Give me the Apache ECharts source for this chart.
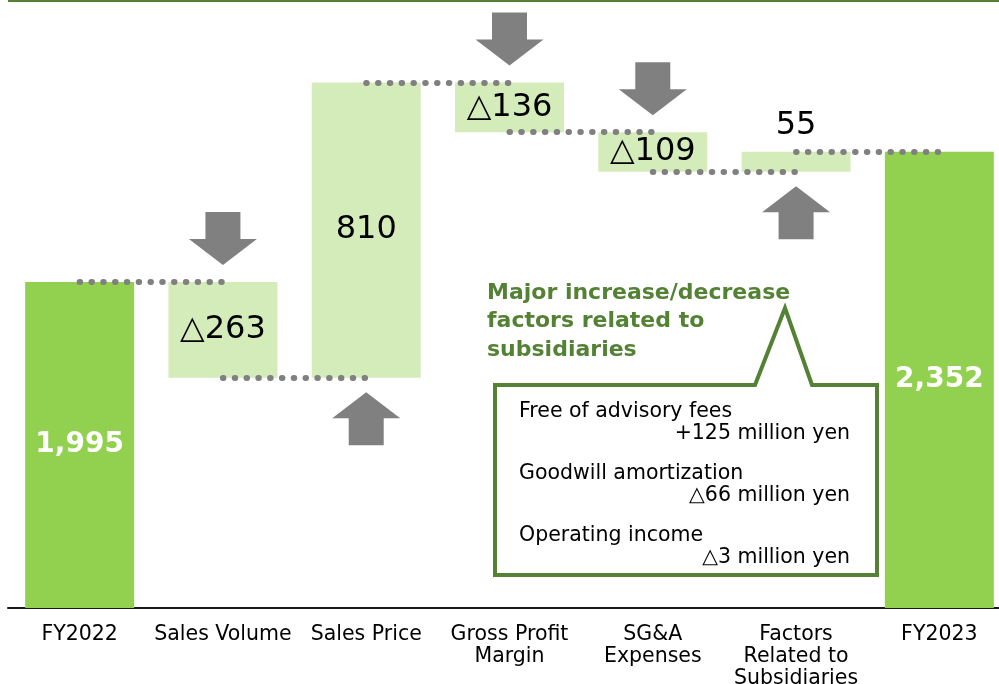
<!DOCTYPE html>
<html>
<head>
<meta charset="utf-8">
<script src="https://cdn.jsdelivr.net/npm/echarts@6/dist/echarts.min.js"></script>
<style>
  html, body { margin: 0; padding: 0; background: #fff; }
  #chart { width: 999px; height: 684px; }
</style>
</head>
<body>
<div id="chart"></div>
<script>
// data
const categories = ['FY2022', 'Sales Volume', 'Sales Price', 'Gross Profit\nMargin', 'SG&A\nExpenses', 'Factors\nRelated to\nSubsidiaries', 'FY2023'];
const startTotal = 1995;
const changes = [-263, 810, -136, -109, 55];
const endTotal = 2352;
const noteLines = [
    ['Free of advisory fees', '+125 million yen'],
    ['Goodwill amortization', '\u25B366 million yen'],
    ['Operating income', '\u25B33 million yen']
];

const yMin = 1100, yMax = 2700;
const totalColor = '#92d050', deltaColor = '#d4ecba', boxGreen = '#548235';
const FONT = 'DejaVu Sans';

const downArrow = 'path://M16.5,0H51.5V27H68L34,53L0,27H16.5Z';
const upArrow = 'path://M34,0L68,26H51.5V53H16.5V26H0Z';

// build waterfall
var baseData = [yMin];
var barData = [{
    value: startTotal - yMin,
    itemStyle: { color: totalColor },
    label: { show: true, position: 'inside', color: '#fff', fontWeight: 'bold', fontSize: 28, formatter: startTotal.toLocaleString('en-US') }
}];
var levels = [startTotal];
var arrows = [];
var run = startTotal;
changes.forEach(function (c, i) {
    baseData.push(c < 0 ? run + c : run);
    barData.push({
        value: Math.abs(c),
        itemStyle: { color: deltaColor },
        label: {
            show: true,
            position: Math.abs(c) < 100 ? 'top' : 'inside',
            distance: 10,
            color: '#000', fontSize: 32,
            formatter: (c < 0 ? '\u25B3' : '') + Math.abs(c)
        }
    });
    arrows.push({
        value: [i + 1, run],
        symbol: c < 0 ? downArrow : upArrow,
        symbolOffset: [0, c < 0 ? -43.5 : 41]
    });
    run += c;
    levels.push(run);
});
baseData.push(yMin);
barData.push({
    value: endTotal - yMin,
    itemStyle: { color: totalColor },
    label: { show: true, position: 'inside', color: '#fff', fontWeight: 'bold', fontSize: 28, formatter: endTotal.toLocaleString('en-US') }
});

var connectors = [];
for (var i = 0; i < levels.length; i++) {
    connectors.push([{ coord: [i, levels[i]] }, { coord: [i + 1, levels[i]] }]);
}

// callout graphics
var graphics = [
    { type: 'line', shape: { x1: 8, y1: 1, x2: 999, y2: 1 }, style: { stroke: boxGreen, lineWidth: 2 } },
    {
        type: 'polygon', z: 10,
        shape: { points: [[495, 385], [755, 385], [785, 308], [812, 385], [877, 385], [877, 575], [495, 575]] },
        style: { fill: '#fff', stroke: boxGreen, lineWidth: 4, lineJoin: 'miter' }
    },
    {
        type: 'text', left: 487, top: 279, z: 11,
        style: {
            text: 'Major increase/decrease\nfactors related to\nsubsidiaries',
            fill: boxGreen, font: 'bold 22px "' + FONT + '"', lineHeight: 28.5
        }
    }
];
noteLines.forEach(function (ln, k) {
    var y = 412 + k * 62;
    graphics.push({ type: 'text', z: 11, x: 519, y: y, style: { text: ln[0], fill: '#000', font: '20.5px "' + FONT + '"', align: 'left', verticalAlign: 'middle' } });
    graphics.push({ type: 'text', z: 11, x: 850, y: y + 22, style: { text: ln[1], fill: '#000', font: '20.5px "' + FONT + '"', align: 'right', verticalAlign: 'middle' } });
});

var dom = document.getElementById('chart');
var myChart = echarts.init(dom, null, { renderer: 'canvas' });
var option = {
    animation: false,
    backgroundColor: '#fff',
    textStyle: { fontFamily: FONT },
    grid: { left: 8, width: 1003, top: 25, bottom: 76, containLabel: false, outerBoundsMode: 'none' },
    xAxis: {
        type: 'category',
        data: categories,
        axisLine: { lineStyle: { color: '#1a1a1a', width: 2 } },
        axisTick: { show: false },
        axisLabel: { color: '#000', fontSize: 20.5, lineHeight: 22, margin: 16, interval: 0, fontFamily: FONT }
    },
    yAxis: {
        type: 'value', min: yMin, max: yMax,
        show: false, splitLine: { show: false }
    },
    series: [
        {
            type: 'bar', stack: 'wf', data: baseData, barWidth: 109,
            itemStyle: { color: 'transparent' }, silent: true
        },
        {
            type: 'bar', stack: 'wf', data: barData, barWidth: 109,
            markLine: {
                silent: true, symbol: 'none', label: { show: false },
                lineStyle: { color: '#808080', width: 6, type: [0.5, 11.3], cap: 'round', opacity: 1 },
                data: connectors
            }
        },
        {
            type: 'scatter', data: arrows, symbolSize: [68, 53],
            itemStyle: { color: '#808080', opacity: 1 }, silent: true
        }
    ],
    graphic: graphics
};
myChart.setOption(option);
</script>
</body>
</html>
